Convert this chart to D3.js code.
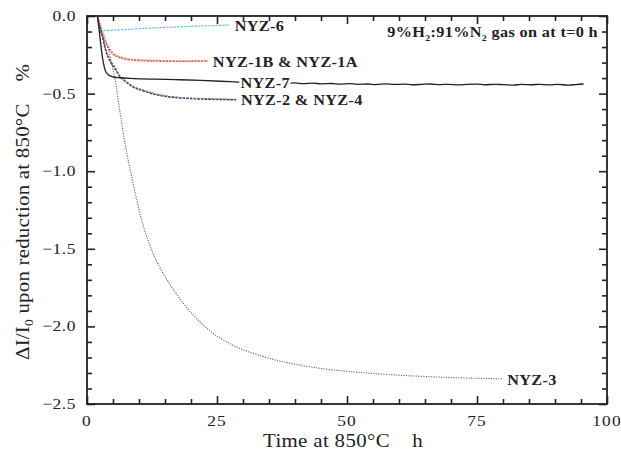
<!DOCTYPE html>
<html>
<head>
<meta charset="utf-8">
<script src="https://cdn.jsdelivr.net/npm/d3@7/dist/d3.min.js"></script>
<style>
  html, body { margin: 0; padding: 0; background: #fff; }
  svg { display: block; }
  text { font-family: "Liberation Serif", "Times New Roman", serif; fill: #222; }
</style>
</head>
<body>
<svg id="chart" width="621" height="452"></svg>
<script>
// Time (h) and relative change (%) for each sample
const nyz6T = [2.5, 4, 7, 10, 13, 16, 19, 22, 25, 27.5];
const nyz6V = [-0.095, -0.093, -0.088, -0.082, -0.077, -0.072, -0.068, -0.064, -0.061, -0.058];

const nyz1bT = [2, 2.5, 3, 3.5, 4, 4.8, 6, 7.3, 9, 12, 15, 18, 21, 23.3];
const nyz1bV = [0, -0.09, -0.13, -0.17, -0.2, -0.24, -0.265, -0.277, -0.285, -0.29, -0.292, -0.293, -0.291, -0.29];
const nyz1aT = [2, 2.5, 3, 3.5, 4, 4.8, 6, 7.3, 9, 12, 15, 18, 21, 23.3];
const nyz1aV = [0, -0.08, -0.12, -0.16, -0.19, -0.23, -0.258, -0.272, -0.28, -0.285, -0.288, -0.29, -0.288, -0.287];

const nyz7T = [2, 2.3, 2.6, 2.9, 3.2, 3.5, 4, 4.8, 6.3, 9, 13, 17, 22, 27.5, 29.5, 31, 33, 34.5, 36.5, 38, 40, 41.5, 43.5, 45, 47, 48.5, 50.5, 52, 54, 55.5, 57.5, 59, 61, 62.5, 64.5, 66, 68, 69.5, 71.5, 73, 75, 76.5, 78.5, 80, 82, 83.5, 85.5, 87, 89, 90.5, 92.5, 94, 95.5];
const nyz7V = [0, -0.08, -0.17, -0.25, -0.31, -0.35, -0.375, -0.39, -0.398, -0.403, -0.407, -0.41, -0.415, -0.423, -0.426, -0.424, -0.429, -0.431, -0.428, -0.433, -0.431, -0.436, -0.433, -0.437, -0.435, -0.439, -0.436, -0.44, -0.438, -0.442, -0.437, -0.441, -0.439, -0.443, -0.44, -0.438, -0.442, -0.44, -0.444, -0.441, -0.439, -0.443, -0.44, -0.442, -0.445, -0.441, -0.443, -0.44, -0.444, -0.441, -0.445, -0.442, -0.438];

const nyz2T = [2, 2.5, 3, 3.5, 4.4, 5.4, 6.3, 7.3, 9, 11.2, 13, 15.4, 18, 21, 25.6, 28.7];
const nyz2V = [0, -0.06, -0.13, -0.2, -0.28, -0.33, -0.385, -0.415, -0.455, -0.48, -0.5, -0.515, -0.525, -0.53, -0.535, -0.537];
const nyz4T = [2, 2.5, 3, 3.5, 4.4, 5.4, 6.3, 7.3, 9, 11.2, 13, 15.4, 18, 21, 25.6, 28.7];
const nyz4V = [0, -0.07, -0.14, -0.21, -0.29, -0.34, -0.39, -0.42, -0.46, -0.487, -0.505, -0.52, -0.528, -0.534, -0.538, -0.54];

const nyz3T = [2, 3, 4, 4.7, 5.4, 6.3, 7.3, 8.3, 9.6, 10.8, 11.8, 12.7, 14, 15.4, 18.5, 21.7, 23.7, 28, 34.5, 44.8, 53.8, 66.5, 80];
const nyz3V = [0, -0.1, -0.2, -0.3, -0.41, -0.61, -0.82, -0.99, -1.19, -1.35, -1.45, -1.53, -1.62, -1.7, -1.85, -1.97, -2.03, -2.12, -2.2, -2.27, -2.3, -2.325, -2.338];

const xTicks = [0, 25, 50, 75, 100];
const yTicks = [0, -0.5, -1.0, -1.5, -2.0, -2.5];

const svg = d3.select("#chart");
const plotL = 87, plotR = 607, plotT = 16, plotB = 404;
const SX = 1.16; // horizontal stretch of the lettering

const x = d3.scaleLinear().domain([0, 100]).range([plotL, plotR]);
const y = d3.scaleLinear().domain([-2.5, 0]).range([plotB, plotT]);

const minorX = d3.range(0, 101, 5);
const minorY = d3.range(0, 26).map(i => -i / 10);

// Axes with inward ticks on all four sides
function addAxis(axisGen, transform) {
  const g = svg.append("g").attr("transform", transform).call(axisGen);
  g.select(".domain").remove();
  g.selectAll("line").attr("stroke", "#222").attr("stroke-width", 1.6);
  return g;
}
const isMajorX = v => xTicks.includes(v);
const isMajorY = v => yTicks.some(t => Math.abs(t - v) < 1e-9);

addAxis(d3.axisBottom(x).tickValues(minorX).tickSizeInner(0).tickSizeOuter(0).tickFormat(""), `translate(0,${plotB})`)
  .selectAll(".tick line").attr("y2", d => isMajorX(d) ? -8 : -5);
addAxis(d3.axisTop(x).tickValues(minorX).tickSizeInner(0).tickSizeOuter(0).tickFormat(""), `translate(0,${plotT})`)
  .selectAll(".tick line").attr("y2", d => isMajorX(d) ? 8 : 5);
addAxis(d3.axisLeft(y).tickValues(minorY).tickSizeInner(0).tickSizeOuter(0).tickFormat(""), `translate(${plotL},0)`)
  .selectAll(".tick line").attr("x2", d => isMajorY(d) ? 8 : 5);
addAxis(d3.axisRight(y).tickValues(minorY).tickSizeInner(0).tickSizeOuter(0).tickFormat(""), `translate(${plotR},0)`)
  .selectAll(".tick line").attr("x2", d => isMajorY(d) ? -8 : -5);

// Tick labels
svg.append("g").selectAll("text").data(xTicks).join("text")
  .attr("transform", d => `translate(${x(d)},426) scale(${SX},1)`)
  .attr("text-anchor", "middle").attr("font-size", 15)
  .style("letter-spacing", "1px")
  .text(d => d);
svg.append("g").selectAll("text").data(yTicks).join("text")
  .attr("transform", d => `translate(76,${y(d) + 5}) scale(${SX},1)`)
  .attr("text-anchor", "end").attr("font-size", 15)
  .style("letter-spacing", "0.5px")
  .text(d => d3.format(".1f")(d));

// Frame
svg.append("rect").attr("x", plotL).attr("y", plotT)
  .attr("width", plotR - plotL).attr("height", plotB - plotT)
  .attr("fill", "none").attr("stroke", "#222").attr("stroke-width", 1.8);

// Curves
const line = d3.line().x(d => x(d[0])).y(d => y(d[1])).curve(d3.curveMonotoneX);
const zip = (t, v) => t.map((d, i) => [d, v[i]]);
const series = [
  { t: nyz3T, v: nyz3V, color: "#666", width: 1.1, dash: "1.2,1.3" },
  { t: nyz6T, v: nyz6V, color: "#6cc3e3", width: 1.2, dash: "2.5,1" },
  { t: nyz1aT, v: nyz1aV, color: "#f0a070", width: 1.4, dash: "2.5,1" },
  { t: nyz1bT, v: nyz1bV, color: "#d8506e", width: 1.3, dash: "2,1.2" },
  { t: nyz4T, v: nyz4V, color: "#3a3550", width: 1.4, dash: "2.5,1.2" },
  { t: nyz2T, v: nyz2V, color: "#8a5a9a", width: 1.2, dash: "2,1.5" },
  { t: nyz7T, v: nyz7V, color: "#222", width: 1.3, dash: null }
];
svg.append("g").selectAll("path").data(series).join("path")
  .attr("d", s => line(zip(s.t, s.v)))
  .attr("fill", "none")
  .attr("stroke", s => s.color)
  .attr("stroke-width", s => s.width)
  .attr("stroke-dasharray", s => s.dash);

// Curve labels
const labels = [
  { text: "NYZ-6", t: 28.4, v: -0.06, halo: false },
  { text: "NYZ-1B & NYZ-1A", t: 24.2, v: -0.29, halo: false },
  { text: "NYZ-7", t: 29.5, v: -0.43, halo: true },
  { text: "NYZ-2 & NYZ-4", t: 29.6, v: -0.54, halo: false },
  { text: "NYZ-3", t: 80.8, v: -2.34, halo: false }
];
svg.append("g").selectAll("text").data(labels).join("text")
  .attr("transform", d => `translate(${x(d.t)},${y(d.v) + 5.5}) scale(${SX},1)`)
  .attr("font-size", 14).attr("font-weight", "bold")
  .attr("stroke", d => d.halo ? "#fff" : null)
  .attr("stroke-width", d => d.halo ? 5 : null)
  .attr("paint-order", "stroke")
  .style("letter-spacing", "0.3px")
  .text(d => d.text);

// Gas annotation
const note = svg.append("text")
  .attr("transform", `translate(598,37) scale(${SX},1)`)
  .attr("text-anchor", "end").attr("font-size", 14).attr("font-weight", "bold")
  .style("letter-spacing", "0.3px");
note.append("tspan").text("9%H");
note.append("tspan").attr("font-size", 8.5).attr("dy", 3.5).text("2");
note.append("tspan").attr("dy", -3.5).text(":91%N");
note.append("tspan").attr("font-size", 8.5).attr("dy", 3.5).text("2");
note.append("tspan").attr("dy", -3.5).text(" gas on at t=0 h");

// Axis titles
svg.append("text")
  .attr("transform", `translate(343,447) scale(${SX},1)`)
  .attr("text-anchor", "middle").attr("font-size", 18)
  .style("white-space", "pre").style("letter-spacing", "0.3px")
  .text("Time at 850\u00B0C    h");

const yt = svg.append("text")
  .attr("transform", `translate(29,212) rotate(-90) scale(${SX},1)`)
  .attr("text-anchor", "middle").attr("font-size", 18)
  .style("white-space", "pre").style("letter-spacing", "0.2px");
yt.append("tspan").text("\u0394I/I");
yt.append("tspan").attr("font-size", 11.5).attr("dy", 4).text("0");
yt.append("tspan").attr("dy", -4).text(" upon reduction at 850\u00B0C    %");
</script>
</body>
</html>
